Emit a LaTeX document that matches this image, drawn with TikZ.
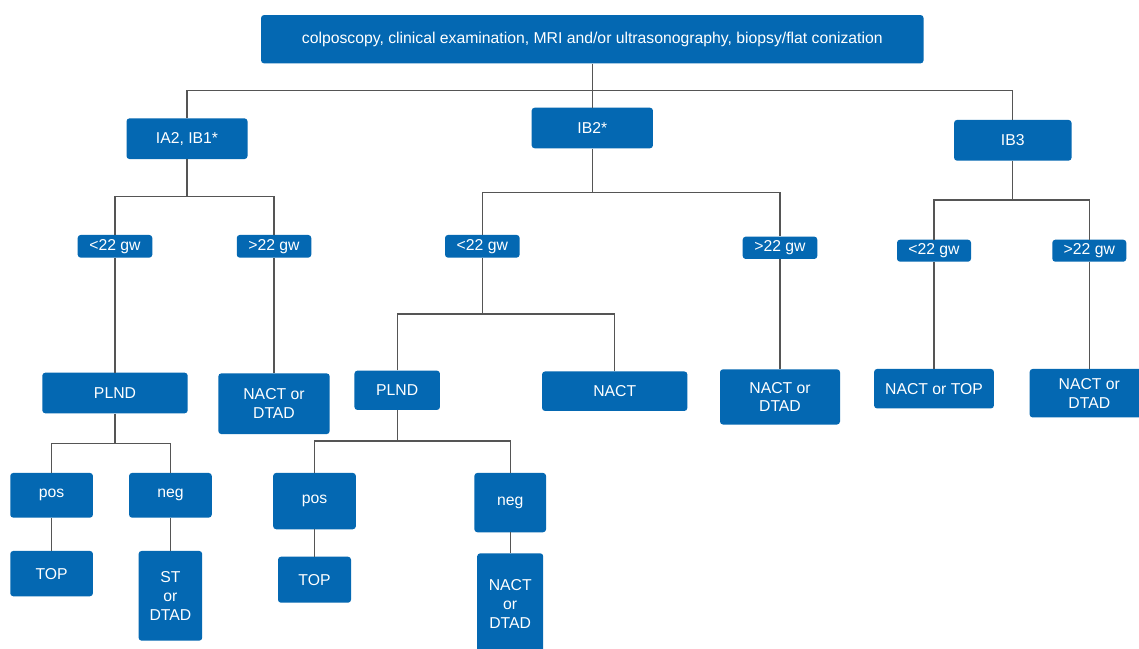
\documentclass[tikz,border=0pt]{standalone}
\usepackage{fontspec}
\setmainfont{Liberation Sans}
\definecolor{boxblue}{RGB}{4,104,178}
\definecolor{linegray}{RGB}{85,85,85}
\tikzset{
  bx/.style={rectangle, rounded corners=3pt, fill=boxblue, text=white, inner sep=0pt,
    align=center, font=\fontsize{15.75}{18.8}\selectfont},
  conn/.style={draw=linegray, line width=1.2pt}
}
\newcommand{\bxn}[6]{\node[bx, minimum width=#4pt, minimum height=#5pt] (#1) at (#2,#3) {#6};}
\begin{document}
\begin{tikzpicture}[x=1pt,y=-1pt]
\useasboundingbox[fill=white] (0,0) rectangle (1139,648);
% nodes
\bxn{top}{592.3}{39.2}{662.5}{48.3}{colposcopy, clinical examination, MRI and/or ultrasonography, biopsy/flat conization}
\bxn{ia}{187}{138.7}{121}{40.7}{IA2, IB1*}
\bxn{ib2}{592.3}{128}{121.3}{40.6}{IB2*}
\bxn{ib3}{1012.8}{140.3}{117.5}{40.7}{IB3}
\bxn{lA}{115}{246.3}{74.6}{22.7}{<22 gw}
\bxn{lB}{274}{246.3}{74.5}{22.7}{>22 gw}
\bxn{mA}{482.3}{246.3}{74.6}{22.7}{<22 gw}
\bxn{mB}{780}{247.8}{74.6}{22.3}{>22 gw}
\bxn{rA}{934}{250.7}{74}{22}{<22 gw}
\bxn{rB}{1089.3}{250.7}{74}{22}{>22 gw}
\bxn{plndL}{115}{393}{145.4}{40.6}{PLND}
\bxn{ndL}{274}{403.7}{111.3}{60.7}{NACT or\\DTAD}
\bxn{plndM}{397.2}{390.3}{85.5}{39.3}{PLND}
\bxn{nact}{614.7}{391.2}{145.3}{39.5}{NACT}
\bxn{ndM}{780}{396.9}{120}{55.2}{NACT or\\DTAD}
\bxn{nt}{934}{388.7}{119.8}{39.5}{NACT or TOP}
\bxn{ndR}{1089.3}{393.2}{119.3}{48.5}{NACT or\\DTAD}
\bxn{posL}{51.6}{495.3}{82.7}{44.7}{pos}
\bxn{negL}{170.4}{495.3}{82.7}{44.7}{neg}
\bxn{topL}{51.6}{573.6}{82.7}{45.3}{TOP}
\bxn{stL}{170.4}{595.8}{63.6}{89.7}{ST\\or\\DTAD}
\bxn{posM}{314.5}{501.1}{82.7}{56.3}{pos}
\bxn{negM}{510.2}{502.6}{71.7}{59.3}{neg}
\bxn{topM}{314.5}{579.7}{73}{46}{TOP}
\bxn{ndB}{510.2}{604.2}{66}{101.8}{NACT\\or\\DTAD}
% bus coordinates
\coordinate (b0) at (0,90.7);
\coordinate (b1) at (0,196.7);
\coordinate (b2) at (0,192.5);
\coordinate (b3) at (0,200);
\coordinate (b4) at (0,314);
\coordinate (b5) at (0,443.5);
\coordinate (b6) at (0,441);
% connectors level 1
\draw[conn] (top.south) -- (top.south |- b0);
\draw[conn] (ia.north) -- (ia.north |- b0) -- (ib3.north |- b0) -- (ib3.north);
\draw[conn] (ib2.north) -- (ib2.north |- b0);
% IA2 branch
\draw[conn] (ia.south) -- (ia.south |- b1);
\draw[conn] (lA.north) -- (lA.north |- b1) -- (lB.north |- b1) -- (lB.north);
% IB2 branch
\draw[conn] (ib2.south) -- (ib2.south |- b2);
\draw[conn] (mA.north) -- (mA.north |- b2) -- (mB.north |- b2) -- (mB.north);
% IB3 branch
\draw[conn] (ib3.south) -- (ib3.south |- b3);
\draw[conn] (rA.north) -- (rA.north |- b3) -- (rB.north |- b3) -- (rB.north);
% gw to treatments
\draw[conn] (lA.south) -- (plndL.north);
\draw[conn] (lB.south) -- (ndL.north);
\draw[conn] (mA.south) -- (mA.south |- b4);
\draw[conn] (plndM.north) -- (plndM.north |- b4) -- (nact.north |- b4) -- (nact.north);
\draw[conn] (mB.south) -- (ndM.north);
\draw[conn] (rA.south) -- (nt.north);
\draw[conn] (rB.south) -- (ndR.north);
% PLND left
\draw[conn] (plndL.south) -- (plndL.south |- b5);
\draw[conn] (posL.north) -- (posL.north |- b5) -- (negL.north |- b5) -- (negL.north);
\draw[conn] (posL.south) -- (topL.north);
\draw[conn] (negL.south) -- (stL.north);
% PLND middle
\draw[conn] (plndM.south) -- (plndM.south |- b6);
\draw[conn] (posM.north) -- (posM.north |- b6) -- (negM.north |- b6) -- (negM.north);
\draw[conn] (posM.south) -- (topM.north);
\draw[conn] (negM.south) -- (ndB.north);
\end{tikzpicture}
\end{document}
